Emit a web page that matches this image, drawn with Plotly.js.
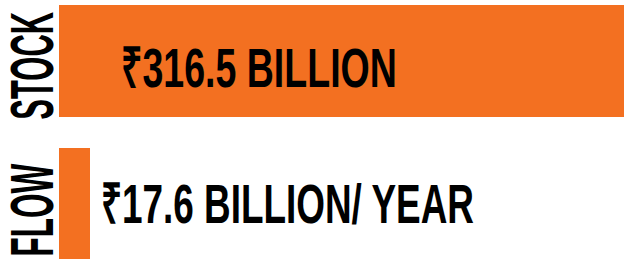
<!DOCTYPE html>
<html>
<head>
<meta charset="utf-8">
<script src="https://cdn.plot.ly/plotly-3.0.1.min.js"></script>
<style>html,body{margin:0;padding:0;background:#fff;}#chart{width:624px;height:259px;}</style>
</head>
<body>
<div id="chart"></div>
<script>
const categories = ['STOCK', 'FLOW'];
const values = [316.5, 17.6];
const valueLabels = ['₹316.5 BILLION', '₹17.6 BILLION/ YEAR'];

const FONT = '"Liberation Sans", Arial, sans-serif';
const ORANGE = '#F37021';

const trace = {
  type: 'bar',
  orientation: 'h',
  x: values,
  y: categories,
  marker: {color: ORANGE, line: {width: 0}},
  width: 0.786,
  hoverinfo: 'none'
};

// label centres / value-text left edges (pixels), and target text lengths
const labelPos = [{x: 32, y: 66}, {x: 32, y: 210}];
const labelLen = [108, 93];
const valuePos = [{x: 119, y: 68}, {x: 99, y: 203}];
const valueLen = [276, 373];

const W = 624, H = 259, L = 59;
const px2x = p => (p - L) / (W - L);
const px2y = p => 1 - p / H;

const annotations = [];
const fits = [];
categories.forEach((c, i) => {
  annotations.push({
    text: '<b>' + c + '</b>', xref: 'paper', yref: 'paper',
    x: px2x(labelPos[i].x), y: px2y(labelPos[i].y), xanchor: 'center', yanchor: 'middle',
    textangle: -90, showarrow: false,
    font: {family: FONT, size: 61, color: '#000'}
  });
  fits.push({len: labelLen[i], pivot: 'center'});
  annotations.push({
    text: '<b>' + valueLabels[i] + '</b>', xref: 'paper', yref: 'paper',
    x: px2x(valuePos[i].x), y: px2y(valuePos[i].y), xanchor: 'left', yanchor: 'middle',
    showarrow: false,
    font: {family: FONT, size: 56, color: '#000'}
  });
  fits.push({len: valueLen[i], pivot: 'left'});
});

const layout = {
  width: W, height: H,
  margin: {l: L, r: 0, t: 0, b: 0, pad: 0},
  paper_bgcolor: '#fff', plot_bgcolor: '#fff',
  showlegend: false,
  xaxis: {range: [0, 316.5], visible: false, fixedrange: true},
  yaxis: {type: 'category', range: [1.389, -0.428], visible: false, fixedrange: true},
  annotations: annotations,
  bargap: 0
};

Plotly.newPlot('chart', [trace], layout, {displayModeBar: false, staticPlot: true}).then(() => {
  fits.forEach((f, i) => {
    const g = document.querySelector('g.annotation[data-index="' + i + '"]');
    if (!g) return;
    const t = g.querySelector('text.annotation-text');
    if (!t) return;
    const bb = t.getBBox();
    const s = f.len / bb.width;
    const p = f.pivot === 'left' ? bb.x : bb.x + bb.width / 2;
    const prev = t.getAttribute('transform') || '';
    t.setAttribute('transform', (prev + ' translate(' + p + ',0) scale(' + s + ',1) translate(' + (-p) + ',0)').trim());
  });
});
</script>
</body>
</html>
